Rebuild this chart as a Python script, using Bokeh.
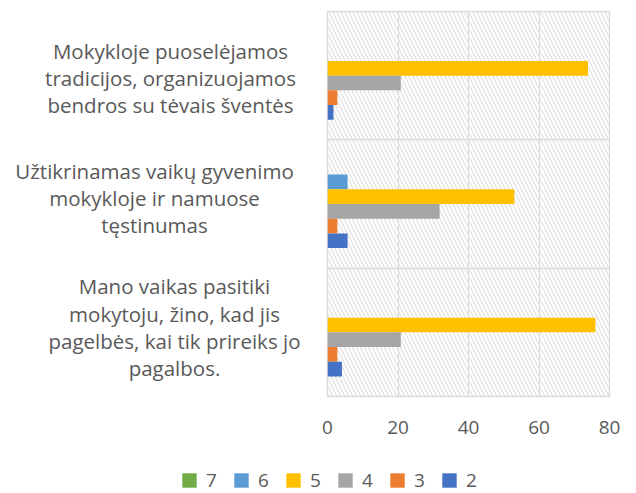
from bokeh.plotting import figure
from bokeh.layouts import column, row
from bokeh.models import (ColumnDataSource, Range1d, FixedTicker,
                          BoxAnnotation, Legend, LegendItem)
from bokeh.transform import dodge
from bokeh.embed import file_html
from bokeh.resources import INLINE

categories = [
    "Mokykloje puoselėjamos\ntradicijos, organizuojamos\nbendros su tėvais šventės",
    "Užtikrinamas vaikų gyvenimo\nmokykloje ir namuose\ntęstinumas",
    "Mano vaikas pasitiki\nmokytoju, žino, kad jis\npagelbės, kai tik prireiks jo\npagalbos.",
]
series_names = ["7", "6", "5", "4", "3", "2"]
s7 = [0, 0, 0]
s6 = [0, 5.7, 0]
s5 = [73.9, 53.0, 76.0]
s4 = [20.8, 31.8, 20.8]
s3 = [2.8, 2.8, 2.8]
s2 = [1.7, 5.7, 4.1]
series_values = [s7, s6, s5, s4, s3, s2]
x_ticks = [0, 20, 40, 60, 80]

colors = ["#70AD47", "#5B9BD5", "#FFC000", "#A5A5A5", "#ED7D31", "#4472C4"]
FONT = "Open Sans"
TXT = "#595959"
GRID = "#d9d9d9"

n = len(categories)
cat_y = [n - 0.5 - i for i in range(n)]  # first category at top

TOP_H = 445
LAB_W = 300

# ---------------- chart ----------------
p = figure(width=636 - LAB_W, height=TOP_H, output_backend="svg", toolbar_location=None,
           x_range=Range1d(0, 80), y_range=Range1d(0, n),
           min_border_left=327 - LAB_W, min_border_right=27, min_border_top=11,
           min_border_bottom=49)
p.background_fill_color = "white"
p.border_fill_color = "white"
p.outline_line_color = GRID
p.outline_line_width = 1.3
p.yaxis.visible = False

p.xaxis.ticker = FixedTicker(ticks=x_ticks)
p.xaxis.axis_line_color = None
p.xaxis.major_tick_line_color = None
p.xaxis.minor_tick_line_color = None
p.xaxis.major_tick_out = 0
p.xaxis.major_label_standoff = 24
p.xaxis.major_label_text_font = FONT
p.xaxis.major_label_text_font_size = "19px"
p.xaxis.major_label_text_color = TXT

p.xgrid.ticker = FixedTicker(ticks=x_ticks)
p.xgrid.grid_line_color = GRID
p.xgrid.grid_line_width = 1.3
p.ygrid.ticker = FixedTicker(ticks=list(range(0, n + 1)))
p.ygrid.grid_line_color = GRID
p.ygrid.grid_line_width = 1.3

hatch = BoxAnnotation(fill_alpha=0, line_color=None, hatch_pattern="\\",
                      hatch_color="#e2e2e2", hatch_scale=8, hatch_weight=1.3,
                      level="underlay")
p.add_layout(hatch)

bar_h = 0.1145
k = len(series_names)
sources = []
for j, (name, vals) in enumerate(zip(series_names, series_values)):
    src = ColumnDataSource(dict(y=cat_y, v=vals))
    sources.append(src)
    off = ((k - 1) / 2 - j) * bar_h
    p.hbar(y=dodge("y", off), right="v", left=0, height=bar_h, source=src,
           fill_color=colors[j], line_color=None)

# ---------------- category labels ----------------
lab = figure(width=LAB_W, height=TOP_H, output_backend="svg", toolbar_location=None,
             x_range=Range1d(0, LAB_W), y_range=Range1d(0, n),
             min_border_left=0, min_border_right=0, min_border_top=11,
             min_border_bottom=49)
lab.axis.visible = False
lab.grid.visible = False
lab.outline_line_color = None
label_x = [170, 154, 174]
label_dy = [-0.02, 0.047, 0.04]
lab.text(x=label_x, y=[cy + d for cy, d in zip(cat_y, label_dy)], text=categories,
         text_align="center", text_baseline="middle", text_font={"value": FONT},
         text_font_size="20.5px", text_color=TXT, text_line_height=0.97)

# ---------------- legend ----------------
leg = figure(width=636, height=48, output_backend="svg", toolbar_location=None,
             x_range=Range1d(0, 1), y_range=Range1d(0, 1),
             min_border=0)
leg.axis.visible = False
leg.grid.visible = False
leg.outline_line_color = None
items = []
for j, name in enumerate(series_names):
    r = leg.hbar(y="y", right="v", left=0, height=0.1, source=sources[j],
                 fill_color=colors[j], line_color=None, visible=False)
    items.append(LegendItem(label=name, renderers=[r]))
legend = Legend(items=items, orientation="horizontal", location=(180, 0),
                glyph_width=18, glyph_height=18, label_height=18,
                label_standoff=8, spacing=6,
                padding=0, margin=0, label_text_font=FONT,
                label_text_font_size="19px", label_text_color=TXT,
                background_fill_alpha=0, border_line_color=None)
leg.add_layout(legend)

layout = column(row(lab, p, spacing=0), leg, spacing=0)
open("out.html", "w").write(file_html(layout, INLINE))
